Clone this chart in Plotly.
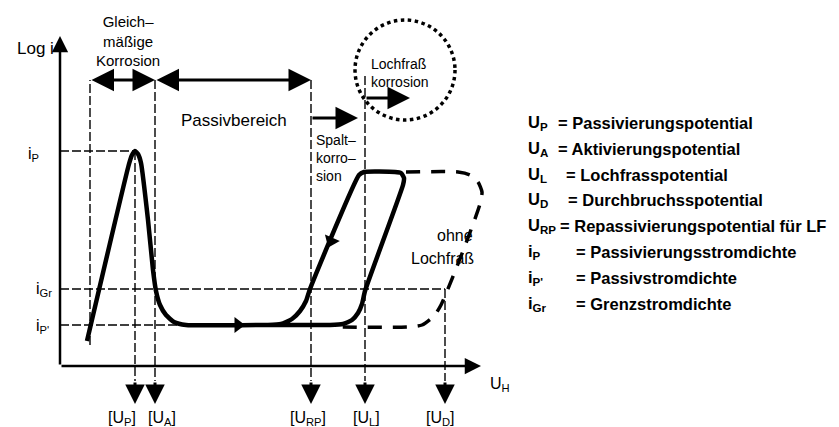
import plotly.graph_objects as go

# ---------------- data (arbitrary units: potential U_H, log i) ----------------
# characteristic potentials
mark_labels = ["[U<sub>P</sub>]", "[U<sub>A</sub>]", "[U<sub>RP</sub>]", "[U<sub>L</sub>]", "[U<sub>D</sub>]"]
mark_U = [75, 95, 251, 305, 385]
U_uniform_start = 30

# characteristic current densities
current_labels = ["i<sub>P</sub>", "i<sub>Gr</sub>", "i<sub>P'</sub>"]
current_levels = [215, 77, 41]

# main (solid) polarisation curve with hysteresis loop
curve_U = [27, 69, 72, 75, 78, 81, 88, 93, 96, 100, 106, 114, 126, 198, 270, 283, 292, 298, 302, 305,
           343, 344, 341, 335, 304, 299, 250, 246, 240, 232, 221, 208]
curve_logi = [25, 202, 211, 215, 212, 203, 146, 96, 75, 61, 51, 44, 41, 41, 41, 42, 46, 53, 62, 75,
              181, 188, 193, 194, 194, 191, 77, 65, 55, 47, 42, 41]

# dashed curve "ohne Lochfraß"
nopit_U = [346, 398, 410, 418, 422, 420, 403, 381, 374, 362, 348, 281]
nopit_logi = [194, 194, 191, 184, 174, 162, 115, 61, 50, 41, 39, 39]

legend_symbols = ["U<sub>P</sub>", "U<sub>A</sub>", "U<sub>L</sub>", "U<sub>D</sub>", "U<sub>RP</sub>",
                  "i<sub>P</sub>", "i<sub>P'</sub>", "i<sub>Gr</sub>"]
legend_texts = ["= Passivierungspotential", "= Aktivierungspotential", "= Lochfrasspotential",
                "= Durchbruchsspotential", "= Repassivierungspotential für LF",
                "= Passivierungsstromdichte", "= Passivstromdichte", "= Grenzstromdichte"]

# ---------------- figure ----------------
FONT = "Liberation Sans, Arial, Helvetica, sans-serif"
fig = go.Figure()

# main curve
fig.add_trace(go.Scatter(x=curve_U, y=curve_logi, mode="lines",
                         line=dict(color="black", width=4.5, shape="spline", smoothing=0.5),
                         hoverinfo="skip", showlegend=False))
# curve without pitting
fig.add_trace(go.Scatter(x=nopit_U, y=nopit_logi, mode="lines",
                         line=dict(color="black", width=3.5, dash="14px,11px", shape="spline", smoothing=0.6),
                         hoverinfo="skip", showlegend=False))
# direction arrows on the curve
fig.add_trace(go.Scatter(x=[178], y=[41], mode="markers",
                         marker=dict(symbol="triangle-right", size=14, color="black"),
                         hoverinfo="skip", showlegend=False))
fig.add_trace(go.Scatter(x=[271], y=[125], mode="markers",
                         marker=dict(symbol="triangle-down", size=14, color="black", angle=23),
                         hoverinfo="skip", showlegend=False))

thin_dash = dict(color="black", width=1.4, dash="9px,3px")
top_row = 286
below_axis = -15

# vertical dashed guide lines
fig.add_shape(type="line", x0=U_uniform_start, x1=U_uniform_start, y0=21, y1=top_row, line=thin_dash)
vert_tops = [current_levels[0], top_row, top_row, 290, current_levels[1]]
for u, top in zip(mark_U, vert_tops):
    fig.add_shape(type="line", x0=u, x1=u, y0=top, y1=below_axis, line=thin_dash)

# horizontal dashed guide lines
horiz_ends = [mark_U[0], mark_U[4], 123]
for lvl, end in zip(current_levels, horiz_ends):
    fig.add_shape(type="line", x0=0, x1=end, y0=lvl, y1=lvl, line=thin_dash)

# dotted circle around "Lochfraßkorrosion"
fig.add_shape(type="circle", x0=295, x1=395, y0=246, y1=346,
              line=dict(color="black", width=3.5, dash="dot"))


def arrow(x0, y0, x1, y1, both=False, width=3, size=1.5):
    fig.add_annotation(x=x1, y=y1, ax=x0, ay=y0, xref="x", yref="y", axref="x", ayref="y",
                       text="", showarrow=True, arrowhead=2, arrowsize=size, arrowwidth=width,
                       arrowcolor="black", arrowside="end+start" if both else "end",
                       startarrowhead=2, startarrowsize=size)


# axes
arrow(0, 0, 0, 330, width=2.5, size=1.3)
arrow(0, 0, 421, 0, width=2.5, size=1.3)

# region arrows
arrow(U_uniform_start, top_row, mark_U[1], top_row, both=True)
arrow(mark_U[1], top_row, mark_U[2], top_row, both=True)
arrow(mark_U[2], 248, 298, 248)
arrow(mark_U[3], 268, 350, 268)

# down arrows to the potential labels
label_offsets = [-13, 7, -3, 1, -5]
for u, lab, off in zip(mark_U, mark_labels, label_offsets):
    arrow(u, below_axis, u, -38, width=3, size=1.3)
    fig.add_annotation(x=u + off, y=-52, text=lab, showarrow=False, xref="x", yref="y",
                       yanchor="middle", font=dict(family=FONT, size=16, color="black"))


def txt(x, y, s, anchor="center", size=16, bold=False, align="center"):
    fig.add_annotation(x=x, y=y, text=("<b>%s</b>" % s) if bold else s, showarrow=False,
                       xref="x", yref="y", xanchor=anchor, yanchor="middle", align=align,
                       font=dict(family=FONT, size=size, color="black"))


txt(-4, 318, "Log i", anchor="right", size=17)
txt(-34, 212, current_labels[0], anchor="left")
txt(-26, 77, current_labels[1], anchor="left")
txt(-26, 40, current_labels[2], anchor="left")
txt(428, -18, "U<sub>H</sub>", anchor="left")

txt(68, 325, "Gleich–<br>mäßige<br>Korrosion", size=15)
txt(174, 246, "Passivbereich", size=17)
txt(254, 208, "Spalt–<br>korro–<br>sion", anchor="left", size=14, align="left")
txt(309, 293, "Lochfraß<br>korrosion", anchor="left", size=14, align="left")
txt(395, 131, "ohne")
txt(382, 108, "Lochfraß")

# legend block
legend_eq_x = [496, 496, 504, 506, 498, 514, 514, 514]
for k, (sym, t, ex) in enumerate(zip(legend_symbols, legend_texts, legend_eq_x)):
    yy = 243 - 25.8 * k
    txt(466, yy, sym, anchor="left", size=16.5, bold=True)
    txt(ex, yy, t, anchor="left", size=16.5, bold=True)

fig.update_layout(width=839, height=427, margin=dict(l=0, r=0, t=0, b=0),
                  paper_bgcolor="white", plot_bgcolor="white",
                  xaxis=dict(range=[-52, 787], visible=False, fixedrange=True),
                  yaxis=dict(range=[-69, 358], visible=False, fixedrange=True),
                  showlegend=False)

fig.write_html("out.html")
